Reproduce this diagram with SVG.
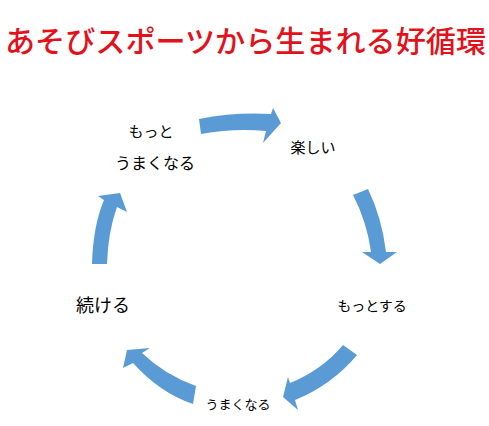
<svg xmlns="http://www.w3.org/2000/svg" width="489" height="426" viewBox="0 0 489 426">
<style>
.t{font-family:"Noto Sans CJK JP","Noto Sans",sans-serif;fill:#000}
.title{font-family:"Noto Sans CJK JP","Noto Sans",sans-serif;fill:#E3111B;font-weight:500}
.arr{fill:#5B9BD5}
</style>
<rect width="489" height="426" fill="#fff"/>
<text class="title" x="5" y="52" font-size="30" textLength="481" lengthAdjust="spacingAndGlyphs">あそびスポーツから生まれる好循環</text>
<g id="connectors">
<path class="arr" d="M199,119 Q234,112 271,114 L273,108 L281,123 L263,143 L266,131 Q234,128 201,134 Z"/>
<path class="arr" d="M368,189 Q382,218 386,252 L397,252 L380,264 L362,252 L371,252 Q367,222 353,195 Z"/>
<path class="arr" d="M357,355 Q332,385 295,400 L298,410 L283,397 L288,377 L290,383 Q322,370 343,345 Z"/>
<path class="arr" d="M196,386 Q165,375 142,353 L150,348 L127,350 L123,368 L133,363 Q160,393 193,404 Z"/>
<path class="arr" d="M92,264 Q93,226 104,200 L98,196 L120,193 L127,212 L117,207 Q108,232 107,264 Z"/>
</g>
<g id="node-motto-umaku"><text class="t" x="151" y="137" font-size="15" text-anchor="middle">もっと</text><text class="t" x="155" y="169" font-size="16" text-anchor="middle">うまくなる</text></g>
<g id="node-tanoshii"><text class="t" x="313" y="153" font-size="15" text-anchor="middle">楽しい</text></g>
<g id="node-motto-suru"><text class="t" x="372" y="311" font-size="14" text-anchor="middle">もっとする</text></g>
<g id="node-umaku"><text class="t" x="238" y="409" font-size="13" text-anchor="middle">うまくなる</text></g>
<g id="node-tsuzukeru"><text class="t" x="103" y="312" font-size="18" text-anchor="middle">続ける</text></g>
</svg>
